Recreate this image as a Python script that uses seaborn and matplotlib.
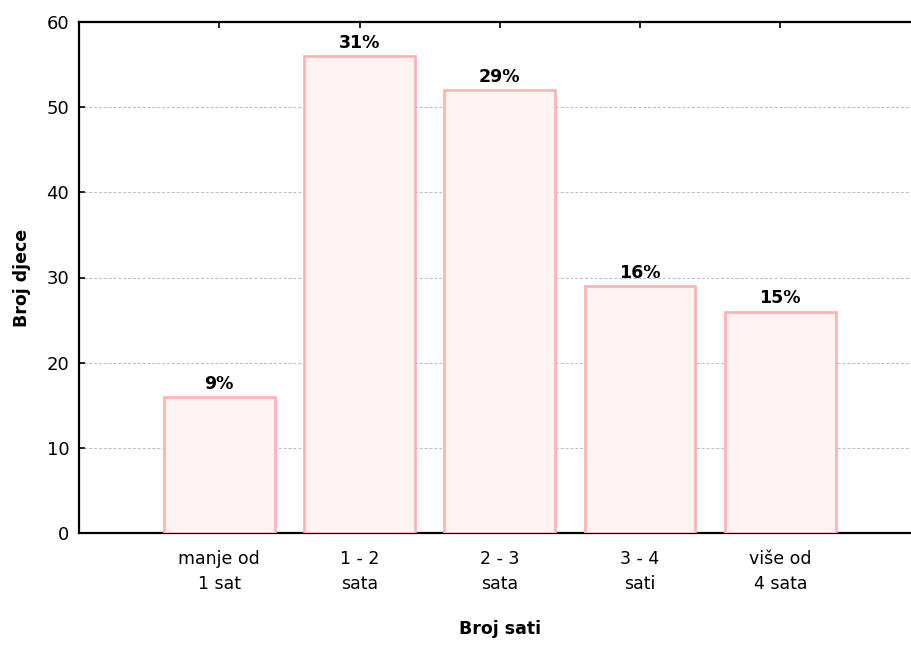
import matplotlib
matplotlib.use("Agg")
import matplotlib.pyplot as plt
import seaborn as sns
import pandas as pd

# ── Data ─────────────────────────────────────────────────────────────────────
categories = ["manje od\n1 sat", "1 - 2\nsata", "2 - 3\nsata", "3 - 4\nsati", "više od\n4 sata"]
counts = [16, 56, 52, 29, 26]
percent_labels = ["9%", "31%", "29%", "16%", "15%"]

df = pd.DataFrame({"sati": categories, "djeca": counts})

sns.set_style("white")
plt.rcParams["font.family"] = ["DejaVu Sans"]
plt.rcParams["text.color"] = "black"
plt.rcParams["axes.labelcolor"] = "black"

fig = plt.figure(figsize=(9.11, 6.45), dpi=100)
ax = fig.add_axes([79 / 911, 112 / 645, 841.5 / 911, 511 / 645])

sns.barplot(data=df, x="sati", y="djeca", ax=ax, width=0.79,
            color="#fff3f3", edgecolor="#ffb4b4", linewidth=2, saturation=1,
            zorder=3)

# percentage labels above bars
for bar, lab in zip(ax.patches, percent_labels):
    ax.annotate(lab, (bar.get_x() + bar.get_width() / 2, bar.get_height()),
                xytext=(0, 3), textcoords="offset points",
                ha="center", va="bottom", fontsize=12.5, fontweight="bold",
                color="black")

ax.set_xlim(-1, 5)
ax.set_ylim(0, 60)
ax.set_yticks(range(0, 61, 10))
ax.yaxis.grid(True, linestyle=(0, (3, 2)), color="#bbbbbb", linewidth=0.7, zorder=0)
ax.set_axisbelow(True)

for side in ["left", "top", "bottom", "right"]:
    ax.spines[side].set_color("black")
    ax.spines[side].set_linewidth(1.6)

ax.tick_params(axis="both", direction="in", length=4, width=1.2, colors="black")
ax.tick_params(axis="x", top=True, pad=12, labelsize=12.5)
ax.tick_params(axis="y", left=True, pad=7, labelsize=13)
for t in ax.get_xticklabels():
    t.set_linespacing(1.5)

ax.set_xlabel("Broj sati", fontsize=12.5, fontweight="bold", labelpad=20)
ax.set_ylabel("Broj djece", fontsize=12.5, fontweight="bold", labelpad=11)

fig.savefig("out.png", dpi=100)
